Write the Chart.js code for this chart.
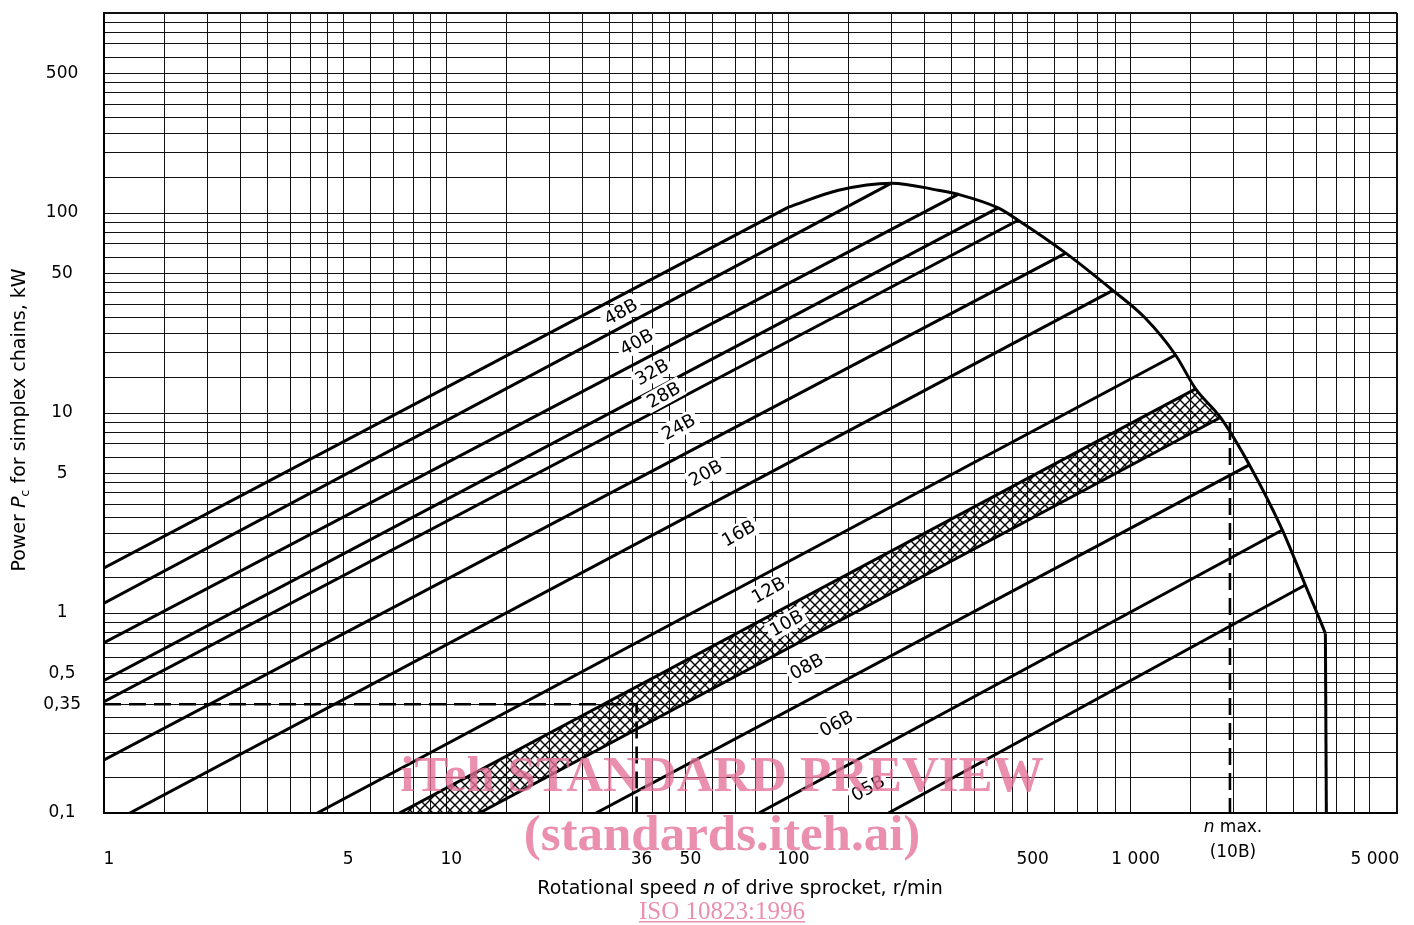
<!DOCTYPE html>
<html>
<head>
<meta charset="utf-8">
<title>Power rating chart, simplex B-series chains</title>
<script src="https://cdn.jsdelivr.net/npm/chart.js@4.4.1/dist/chart.umd.min.js"></script>
<style>
  html, body { margin: 0; padding: 0; background: #fff; }
  canvas { display: block; }
</style>
</head>
<body>
<canvas id="chart" width="1414" height="925"></canvas>
<script>
// chain rating lines, top to bottom (10B is the hatched band between two lines)
const lineNames = ['48B', '40B', '32B', '28B', '24B', '20B', '16B', '12B', '10B upper', '10B lower', '08B', '06B', '05B'];
const startN = [1, 1, 1, 1, 1, 1, 1.19, 4.2, 7.3, 12.5, 27.4, 82, 196];
const startP = [1.68, 1.12, 0.71, 0.46, 0.36, 0.184, 0.1, 0.1, 0.1, 0.1, 0.1, 0.1, 0.1];
const endN = [100, 200, 313, 410, 469, 646, 887, 1352, 1548, 1829, 2223, 2775, 3237];
const endP = [107, 141, 124, 106, 92, 63, 41, 19.5, 13.2, 9.5, 5.5, 2.6, 1.38];

// outer limit curve, then its vertical drop
const envN = [100, 140, 200, 274, 313, 410, 469, 646, 887, 1099, 1352, 1548, 1829, 2223, 2775, 3237, 3557, 3706];
const envP = [107, 130, 141, 130, 124, 106, 92, 63, 41, 30, 19.5, 13.2, 9.5, 5.5, 2.6, 1.38, 0.94, 0.79];
const dropN = [3706, 3730];
const dropP = [0.79, 0.1];

// chain designations written on the chart
const chainNames = ['48B', '40B', '32B', '28B', '24B', '20B', '16B', '12B', '10B', '08B', '06B', '05B'];
const labelN = [32.4, 36, 39.9, 43.2, 47.8, 57.3, 71.5, 87.4, 98.7, 113, 138, 171];
const labelP = [32, 22.6, 16, 12.3, 8.5, 5.0, 2.5, 1.3, 0.89, 0.54, 0.28, 0.133];

// worked example (dashed)
const exampleN = [1, 36, 36];
const exampleP = [0.35, 0.35, 0.1];
const nMaxN = [1950, 1950];
const nMaxP = [8.9, 0.1];

// axes
const gridSteps = [1, 1.5, 2, 2.5, 3, 3.5, 4, 4.5, 5, 6, 7, 8, 9];
const xDecades = [1, 10, 100, 1000];
const yDecades = [0.1, 1, 10, 100];
const xLabelled = [1, 5, 10, 36, 50, 100, 500, 1000, 5000];
const yLabelled = [0.1, 0.35, 0.5, 1, 5, 10, 50, 100, 500];
const X_MIN = 1, X_MAX = 6000, Y_MIN = 0.1, Y_MAX = 1000;

const FONT = '"DejaVu Sans", sans-serif';

const xTicks = xDecades.flatMap(d => gridSteps.map(s => +(d * s).toPrecision(6)))
  .filter(v => v <= X_MAX).concat([36]).sort((a, b) => a - b);
const yTicks = yDecades.flatMap(d => gridSteps.map(s => +(d * s).toPrecision(6)))
  .concat([Y_MAX]);

const isIn = (list, v) => list.some(l => Math.abs(l - v) / l < 1e-6);
const fmtX = v => String(v).replace(/\B(?=(\d{3})+$)/g, ' ');
const fmtY = v => String(v).replace('.', ',');

const ctx = document.getElementById('chart').getContext('2d');

function hatchPattern() {
  const s = 10;
  const c = document.createElement('canvas');
  c.width = c.height = s;
  const g = c.getContext('2d');
  g.strokeStyle = '#000';
  g.lineWidth = 1.4;
  g.beginPath();
  g.moveTo(-1, -1); g.lineTo(s + 1, s + 1);
  g.moveTo(s + 1, -1); g.lineTo(-1, s + 1);
  g.stroke();
  return ctx.createPattern(c, 'repeat');
}

const pts = (ns, ps) => ns.map((n, i) => ({ x: n, y: ps[i] }));

const datasets = [];
// hatched band for 10B
datasets.push({
  data: [
    { x: startN[8], y: startP[8] }, { x: endN[8], y: endP[8] },
    { x: endN[9], y: endP[9] }, { x: startN[9], y: startP[9] }
  ],
  fill: 'shape', backgroundColor: hatchPattern(), borderWidth: 0, pointRadius: 0
});
lineNames.forEach((name, i) => datasets.push({
  label: name,
  data: [{ x: startN[i], y: startP[i] }, { x: endN[i], y: endP[i] }],
  borderColor: '#000', borderWidth: 3, pointRadius: 0, fill: false
}));
datasets.push({
  label: 'limit', data: pts(envN, envP), borderColor: '#000', borderWidth: 3,
  pointRadius: 0, fill: false, cubicInterpolationMode: 'monotone'
});
datasets.push({
  label: 'limit drop', data: pts(dropN, dropP), borderColor: '#000', borderWidth: 3,
  pointRadius: 0, fill: false
});
datasets.push({
  label: 'example', data: pts(exampleN, exampleP), borderColor: '#000', borderWidth: 2.6,
  borderDash: [17, 8], pointRadius: 0, fill: false
});
datasets.push({
  label: 'n max', data: pts(nMaxN, nMaxP), borderColor: '#000', borderWidth: 2.6,
  borderDash: [17, 8], pointRadius: 0, fill: false
});

function drawParts(c, parts, cx, cy) {
  let total = 0;
  parts.forEach(p => { c.font = p.f; total += c.measureText(p.t).width; });
  let x = cx - total / 2;
  c.textAlign = 'left';
  parts.forEach(p => {
    c.font = p.f;
    c.fillText(p.t, x, cy + (p.dy || 0));
    x += c.measureText(p.t).width;
  });
}

const textPlugin = {
  id: 'texts',
  afterDatasetsDraw(chart) {
    const { ctx: c, scales: { x, y } } = chart;
    c.save();
    c.font = '18px ' + FONT;
    c.textAlign = 'center';
    c.textBaseline = 'middle';
    chainNames.forEach((t, i) => {
      const px = x.getPixelForValue(labelN[i]);
      const py = y.getPixelForValue(labelP[i]);
      c.save();
      c.translate(px, py);
      c.rotate(-29 * Math.PI / 180);
      const w = c.measureText(t).width + 6;
      c.fillStyle = '#fff';
      c.fillRect(-w / 2, -10, w, 20);
      c.fillStyle = '#000';
      c.fillText(t, 0, 1);
      c.restore();
    });
    c.restore();
  },
  afterDraw(chart) {
    const { ctx: c, scales: { x } } = chart;
    c.save();
    c.fillStyle = '#000';
    c.textBaseline = 'alphabetic';
    const reg = '17px ' + FONT, ital = 'italic 17px ' + FONT;
    const regT = '19px ' + FONT, italT = 'italic 19px ' + FONT;

    // x axis title
    drawParts(c, [
      { t: 'Rotational speed ', f: regT }, { t: 'n', f: italT },
      { t: ' of drive sprocket, r/min', f: regT }
    ], 740, 894);

    // n max. (10B)
    const xm = x.getPixelForValue(nMaxN[0]) + 3;
    drawParts(c, [{ t: 'n', f: ital }, { t: ' max.', f: reg }], xm, 832);
    drawParts(c, [{ t: '(10B)', f: reg }], xm, 857);

    // y axis title
    c.translate(25, 420);
    c.rotate(-Math.PI / 2);
    drawParts(c, [
      { t: 'Power ', f: regT }, { t: 'P', f: italT },
      { t: 'c', f: '13px ' + FONT, dy: 4 },
      { t: ' for simplex chains, kW', f: regT }
    ], 0, 0);
    c.restore();

    // watermark
    c.save();
    c.fillStyle = 'rgba(228, 112, 150, 0.78)';
    c.textAlign = 'center';
    c.font = 'bold 51px "Liberation Serif", serif';
    c.fillText('iTeh STANDARD PREVIEW', 722, 791);
    c.fillText('(standards.iteh.ai)', 722, 850);
    c.font = '25px "Liberation Serif", serif';
    c.fillText('ISO 10823:1996', 722, 919);
    const w = c.measureText('ISO 10823:1996').width;
    c.fillRect(722 - w / 2, 921, w, 1.5);
    c.restore();
  }
};

const gridColor = '#111';

new Chart(ctx, {
  type: 'line',
  data: { datasets },
  plugins: [textPlugin],
  options: {
    responsive: false,
    animation: false,
    devicePixelRatio: 1,
    layout: { padding: { left: 0, top: 13, right: 17, bottom: 0 } },
    plugins: { legend: { display: false }, tooltip: { enabled: false } },
    scales: {
      x: {
        type: 'logarithmic', min: X_MIN, max: X_MAX,
        afterBuildTicks: s => { s.ticks = xTicks.map(v => ({ value: v })); },
        afterFit: s => { s.height = 112; s.paddingLeft = 0; s.paddingRight = 0; },
        border: { color: '#000', width: 2 },
        grid: {
          drawTicks: false, color: gridColor,
          lineWidth: c => (c.tick && c.tick.value === 36) ? 0 : (c.tick && c.tick.value === X_MAX ? 2 : 1)
        },
        ticks: {
          autoSkip: false, maxRotation: 0, padding: 36, labelOffset: 5,
          color: '#000', font: { family: FONT, size: 17 },
          callback: v => isIn(xLabelled, v) ? fmtX(v) : ''
        }
      },
      y: {
        type: 'logarithmic', min: Y_MIN, max: Y_MAX,
        afterBuildTicks: s => { s.ticks = yTicks.map(v => ({ value: v })); },
        afterFit: s => { s.width = 104; s.paddingTop = 0; s.paddingBottom = 0; },
        border: { color: '#000', width: 2 },
        grid: {
          drawTicks: false, color: gridColor,
          lineWidth: c => (c.tick && c.tick.value === Y_MAX) ? 2 : 1
        },
        ticks: {
          autoSkip: false, crossAlign: 'center', padding: 23,
          color: '#000', font: { family: FONT, size: 17 },
          callback: v => isIn(yLabelled, v) ? fmtY(v) : ''
        }
      }
    }
  }
});
</script>
</body>
</html>
